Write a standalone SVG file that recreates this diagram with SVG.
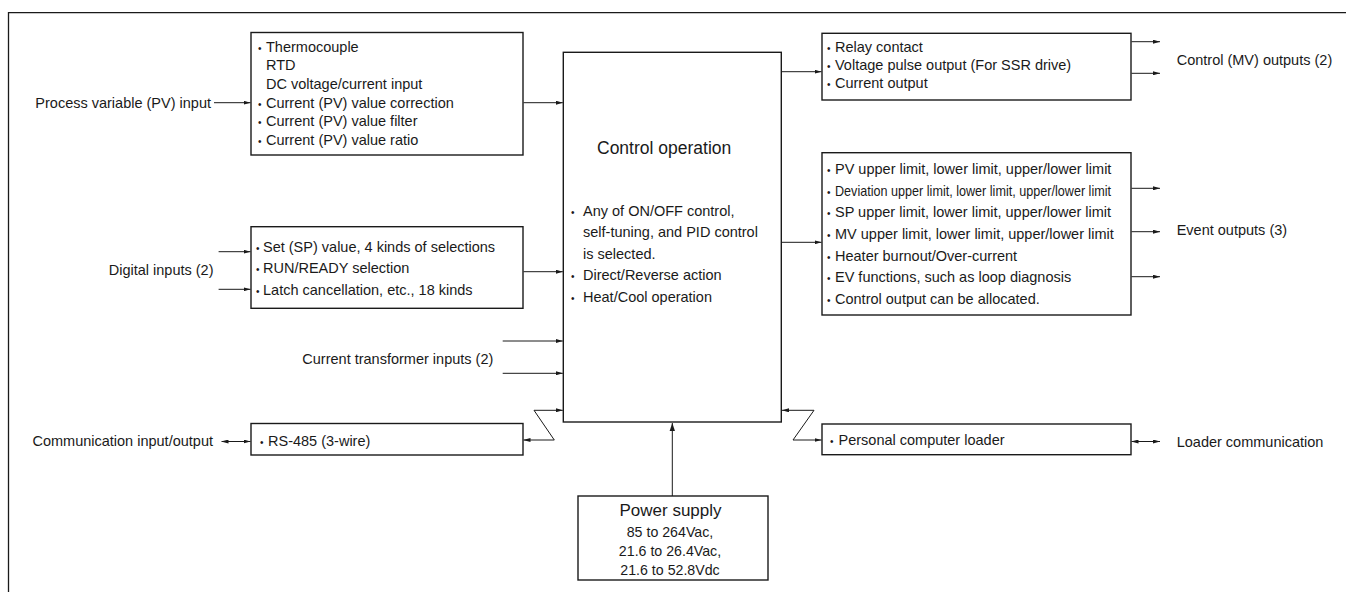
<svg xmlns="http://www.w3.org/2000/svg" width="1346" height="592" viewBox="0 0 1346 592">
<style>
text{font-family:"Liberation Sans",Arial,sans-serif;font-size:14.5px;fill:#1a1a1a}
.box{fill:#fff;stroke:#1a1a1a;stroke-width:1.4}
.c{fill:none;stroke:#1a1a1a;stroke-width:1}
.b{font-size:10px}
.big{font-size:17.5px}
.ps{font-size:17px}
.sm{font-size:14.2px}
</style>
<defs>
<marker id="a" markerUnits="userSpaceOnUse" markerWidth="7" markerHeight="4" refX="7" refY="2" orient="auto-start-reverse"><path d="M0,0 L7,2 L0,4 z" fill="#1a1a1a"/></marker>
<marker id="ab" markerUnits="userSpaceOnUse" markerWidth="8" markerHeight="12" refX="12" refY="4" orient="auto" viewBox="0 0 12 8"><path d="M0,0 L12,4 L0,8 z" fill="#1a1a1a"/></marker>
</defs>
<path d="M8.5,592 V12.7 H1346" fill="none" stroke="#1a1a1a" stroke-width="1.3"/>

<g id="pv-input-label"><text x="211" y="107.5" text-anchor="end">Process variable (PV) input</text></g>
<g id="pv-box">
<rect class="box" x="251" y="32.5" width="272" height="122.5"/>
<text x="258" y="51.5"><tspan class="b">•</tspan><tspan x="266">Thermocouple</tspan></text>
<text x="266" y="70">RTD</text>
<text x="266" y="88.5">DC voltage/current input</text>
<text x="258" y="107.5"><tspan class="b">•</tspan><tspan x="266">Current (PV) value correction</tspan></text>
<text x="258" y="126.3"><tspan class="b">•</tspan><tspan x="266">Current (PV) value filter</tspan></text>
<text x="258" y="145"><tspan class="b">•</tspan><tspan x="266">Current (PV) value ratio</tspan></text>
</g>

<g id="digital-label"><text x="213.5" y="275" text-anchor="end">Digital inputs (2)</text></g>
<g id="digital-box">
<rect class="box" x="251" y="226.7" width="272" height="81.6"/>
<text x="256" y="251.5"><tspan class="b">•</tspan><tspan x="263">Set (SP) value, 4 kinds of selections</tspan></text>
<text x="256" y="273"><tspan class="b">•</tspan><tspan x="263">RUN/READY selection</tspan></text>
<text x="256" y="294.5"><tspan class="b">•</tspan><tspan x="263">Latch cancellation, etc., 18 kinds</tspan></text>
</g>

<g id="ct-label"><text x="493.3" y="364.3" text-anchor="end">Current transformer inputs (2)</text></g>

<g id="comm-label"><text x="213" y="446.3" text-anchor="end">Communication input/output</text></g>
<g id="rs485-box">
<rect class="box" x="251" y="423.5" width="272" height="31.5"/>
<text x="260" y="446.3"><tspan class="b">•</tspan><tspan x="268">RS-485 (3-wire)</tspan></text>
</g>

<g id="control-box">
<rect class="box" x="563.3" y="52.3" width="218" height="369.7"/>
<text class="big" x="597" y="153.5">Control operation</text>
<text x="571" y="215.7"><tspan class="b">•</tspan><tspan x="583">Any of ON/OFF control,</tspan></text>
<text x="583" y="237">self-tuning, and PID control</text>
<text x="583" y="258.5">is selected.</text>
<text x="571" y="280"><tspan class="b">•</tspan><tspan x="583">Direct/Reverse action</tspan></text>
<text x="571" y="301.7"><tspan class="b">•</tspan><tspan x="583">Heat/Cool operation</tspan></text>
</g>

<g id="power-box">
<rect class="box" x="578" y="496" width="190" height="84"/>
<text class="ps" x="670.5" y="516" text-anchor="middle">Power supply</text>
<text class="sm" x="670" y="536.5" text-anchor="middle">85 to 264Vac,</text>
<text class="sm" x="670" y="555.5" text-anchor="middle">21.6 to 26.4Vac,</text>
<text class="sm" x="670" y="575" text-anchor="middle">21.6 to 52.8Vdc</text>
</g>

<g id="mv-box">
<rect class="box" x="822" y="33.3" width="309" height="66.7"/>
<text x="827" y="51.7"><tspan class="b">•</tspan><tspan x="835">Relay contact</tspan></text>
<text x="827" y="70"><tspan class="b">•</tspan><tspan x="835">Voltage pulse output (For SSR drive)</tspan></text>
<text x="827" y="88.3"><tspan class="b">•</tspan><tspan x="835">Current output</tspan></text>
</g>
<g id="mv-label"><text x="1176.7" y="65">Control (MV) outputs (2)</text></g>

<g id="event-box">
<rect class="box" x="822" y="152.7" width="309" height="162.3"/>
<text x="827" y="173.5"><tspan class="b">•</tspan><tspan x="835">PV upper limit, lower limit, upper/lower limit</tspan></text>
<text x="827" y="195.5"><tspan class="b">•</tspan><tspan x="835" font-size="14.3" textLength="276" lengthAdjust="spacingAndGlyphs">Deviation upper limit, lower limit, upper/lower limit</tspan></text>
<text x="827" y="217.3"><tspan class="b">•</tspan><tspan x="835">SP upper limit, lower limit, upper/lower limit</tspan></text>
<text x="827" y="238.5"><tspan class="b">•</tspan><tspan x="835">MV upper limit, lower limit, upper/lower limit</tspan></text>
<text x="827" y="260.5"><tspan class="b">•</tspan><tspan x="835">Heater burnout/Over-current</tspan></text>
<text x="827" y="282"><tspan class="b">•</tspan><tspan x="835">EV functions, such as loop diagnosis</tspan></text>
<text x="827" y="304"><tspan class="b">•</tspan><tspan x="835">Control output can be allocated.</tspan></text>
</g>
<g id="event-label"><text x="1176.7" y="235">Event outputs (3)</text></g>

<g id="loader-box">
<rect class="box" x="822" y="424" width="309" height="30.7"/>
<text x="830" y="445"><tspan class="b">•</tspan><tspan x="838.5">Personal computer loader</tspan></text>
</g>
<g id="loader-label"><text x="1176.7" y="446.5">Loader communication</text></g>

<g id="connectors">
<line class="c" x1="214" y1="102.7" x2="250.5" y2="102.7" marker-end="url(#a)"/>
<line class="c" x1="523.5" y1="102.7" x2="562.8" y2="102.7" marker-end="url(#a)"/>
<line class="c" x1="218.6" y1="251.7" x2="250.5" y2="251.7" marker-end="url(#a)"/>
<line class="c" x1="218.6" y1="289.3" x2="250.5" y2="289.3" marker-end="url(#a)"/>
<line class="c" x1="523.5" y1="271.7" x2="562.8" y2="271.7" marker-end="url(#a)"/>
<line class="c" x1="502.7" y1="341" x2="562.8" y2="341" marker-end="url(#a)"/>
<line class="c" x1="502.7" y1="373.3" x2="562.8" y2="373.3" marker-end="url(#a)"/>
<line class="c" x1="221.5" y1="441.5" x2="250.5" y2="441.5" marker-start="url(#a)" marker-end="url(#a)"/>
<path class="c" d="M523.5,440 L554.3,440 L534,410.3 L562.8,410.3" marker-start="url(#a)" marker-end="url(#a)"/>
<line class="c" x1="781.5" y1="71.7" x2="821.5" y2="71.7" marker-end="url(#a)"/>
<line class="c" x1="781.5" y1="242.3" x2="821.5" y2="242.3" marker-end="url(#a)"/>
<line class="c" x1="1131.5" y1="41.7" x2="1160" y2="41.7" marker-end="url(#a)"/>
<line class="c" x1="1131.5" y1="73.3" x2="1160" y2="73.3" marker-end="url(#a)"/>
<line class="c" x1="1131.5" y1="188.3" x2="1160" y2="188.3" marker-end="url(#a)"/>
<line class="c" x1="1131.5" y1="231.7" x2="1160" y2="231.7" marker-end="url(#a)"/>
<line class="c" x1="1131.5" y1="276.7" x2="1160" y2="276.7" marker-end="url(#a)"/>
<path class="c" d="M782,410.3 L814,410.3 L793,440 L821.5,440" marker-start="url(#a)" marker-end="url(#a)"/>
<line class="c" x1="1131.5" y1="441.5" x2="1160" y2="441.5" marker-start="url(#a)" marker-end="url(#a)"/>
<line class="c" x1="672.3" y1="496" x2="672.3" y2="423" stroke-width="1.3" marker-end="url(#ab)"/>
</g>
</svg>
